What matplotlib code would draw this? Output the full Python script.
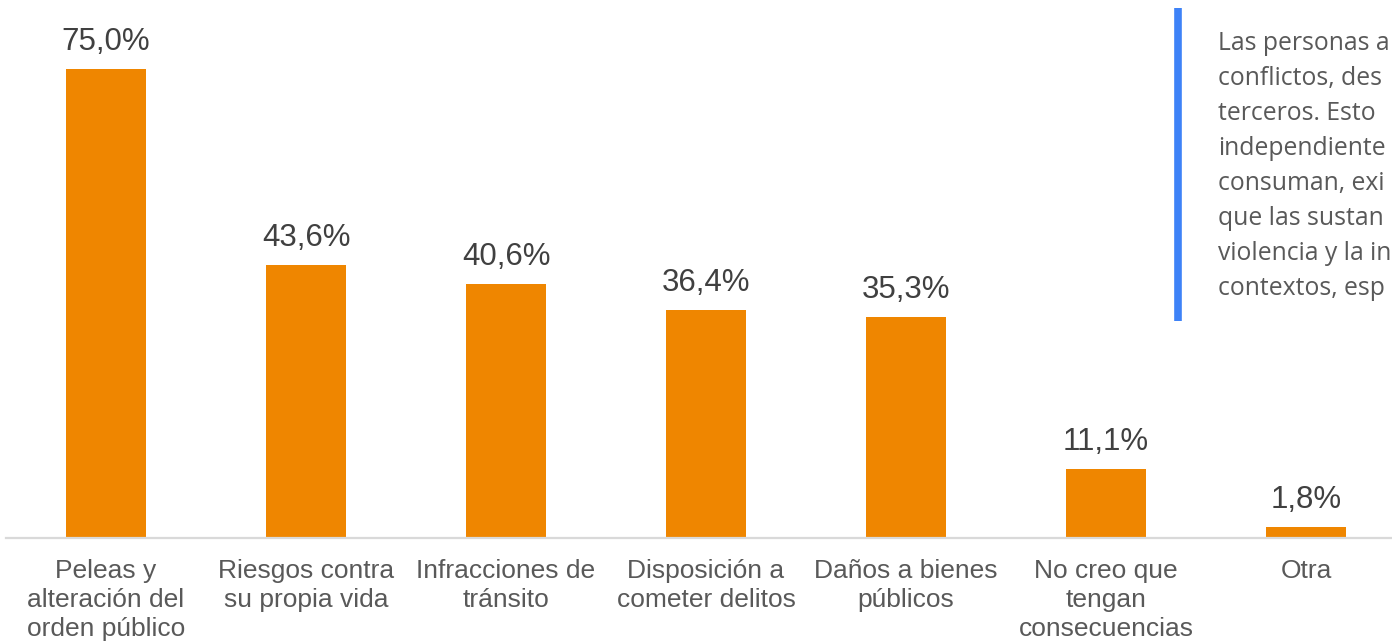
import matplotlib.pyplot as plt
from matplotlib.lines import Line2D

categories = ["Peleas y\nalteración del\norden público", "Riesgos contra\nsu propia vida",
              "Infracciones de\ntránsito", "Disposición a\ncometer delitos",
              "Daños a bienes\npúblicos", "No creo que\ntengan\nconsecuencias", "Otra"]
values = [75.0, 43.6, 40.6, 36.4, 35.3, 11.1, 1.8]

# side note, as much as is visible in the original
side_lines = ["Las personas a", "conflictos, des", "terceros. Esto",
              "independiente", "consuman, exi", "que las sustan",
              "violencia y la in", "contextos, esp"]

W, H = 1392, 644
fig = plt.figure(figsize=(W / 100, H / 100), dpi=100)
fig.patch.set_facecolor("white")

ax = fig.add_axes([6 / W, 106 / H, 1386 / W, 538 / H])
ax.set_xlim(-0.5, 6.43)
ax.set_ylim(0, 86.04)
ax.patch.set_alpha(0)

x = range(len(values))
ax.bar(x, values, width=0.4, color="#EF8600", zorder=2)

for s in ["top", "right", "left"]:
    ax.spines[s].set_visible(False)
ax.spines["bottom"].set_color("#d9d9d9")
ax.spines["bottom"].set_linewidth(1.6)
ax.set_xticks([])
ax.set_yticks([])

for i, v in zip(x, values):
    ax.annotate(f"{v:.1f}%".replace(".", ","), (i, v), xytext=(0, 19),
                textcoords="offset pixels", ha="center", va="baseline",
                fontsize=22.5, color="#404040", family="Liberation Sans")
    ax.annotate(categories[i], (i, 0), xytext=(0, -21), textcoords="offset pixels",
                ha="center", va="top", fontsize=19, color="#595959",
                family="Liberation Sans", linespacing=1.27, annotation_clip=False)

# blue bar next to the note
fig.add_artist(Line2D([1178 / W, 1178 / W], [1 - 8 / H, 1 - 321 / H],
                      color="#3E82F7", linewidth=5.5, solid_capstyle="butt"))
for k, line in enumerate(side_lines):
    fig.text(1218 / W, 1 - (50 + 35 * k) / H, line, fontsize=17.8,
             color="#595959", family="Open Sans", va="baseline", ha="left")

fig.savefig("out.png", dpi=100)
